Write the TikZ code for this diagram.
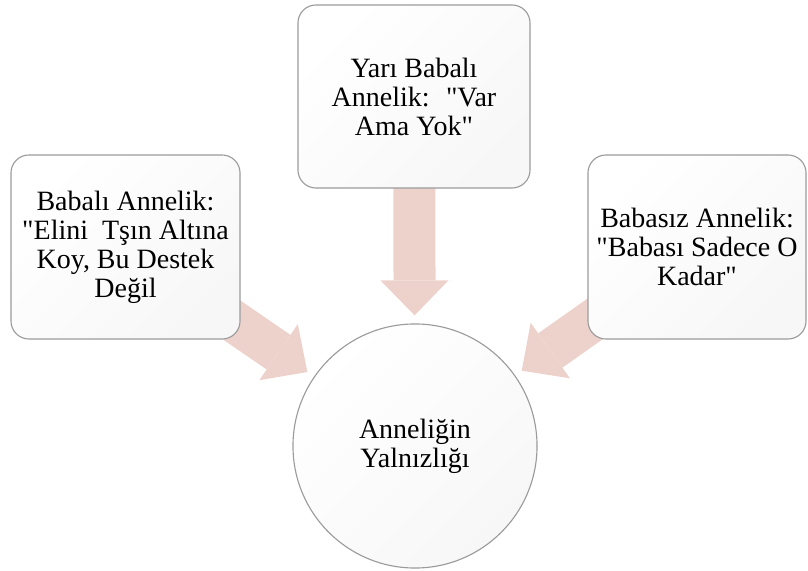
\documentclass[tikz,border=0pt]{standalone}
\usepackage{fontspec}
\setmainfont{Liberation Serif}[Ligatures=TeXOff]
\usepackage{tikz}
\usetikzlibrary{
    arrows.meta,
    backgrounds
}
\usepackage{xcolor}
\definecolor{boxgray}{RGB}{155,155,155}
\definecolor{arrowpink}{RGB}{237,210,204}
\definecolor{fillgray}{RGB}{247,247,247}

\begin{document}
\begin{tikzpicture}[
    x=0.025cm, y=0.025cm,
    box/.style={
        rectangle, rounded corners=0.45cm, draw=boxgray, line width=0.8pt,
        top color=white, bottom color=fillgray, shading angle=45,
        minimum width=5.725cm, minimum height=4.6cm,
        align=center, font=\fontsize{19.9}{20.6}\selectfont
    },
    hubnode/.style={
        circle, draw=boxgray, line width=0.8pt,
        top color=white, bottom color=fillgray, shading angle=45,
        minimum size=6.1cm, inner sep=0pt,
        align=center, font=\fontsize{19.9}{20.6}\selectfont
    },
    bigarrow/.style={
        arrowpink, line width=1.05cm, shorten >=0.2cm,
        -{Triangle[length=0.875cm, width=1.7cm, line width=0pt]}
    }
]
\useasboundingbox (0,0) rectangle (808,571);

% Centre
\node[hubnode] (hub) at (415, 125) {Anneliğin\\Yalnızlığı};

% Outer boxes
\node[box] (left) at (125.5, 324) {Babalı Annelik:\\"Elini~ Tşın Altına\\Koy, Bu Destek\\Değil};
\node[box, minimum width=5.8cm, minimum height=4.575cm] (top) at (414, 474.5) {Yarı Babalı\\Annelik:~ "Var\\Ama Yok"};
\node[box, minimum width=5.45cm] (right) at (697, 324) {Babasız Annelik:\\"Babası Sadece O\\Kadar"};

% Arrows into the centre
\begin{scope}[on background layer]
\draw[bigarrow] (left.center) -- (hub);
\draw[bigarrow] (top.center) -- (hub);
\draw[bigarrow] (right.center) -- (hub);
\end{scope}

\end{tikzpicture}
\end{document}
